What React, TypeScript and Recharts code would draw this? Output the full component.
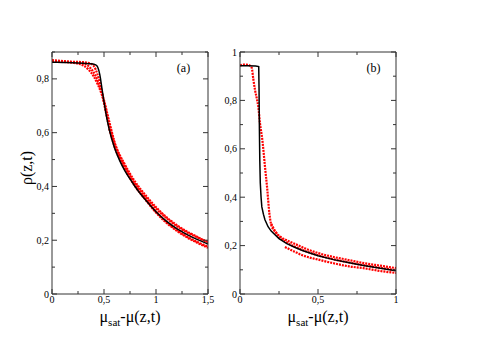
import React from 'react';
import { ComposedChart, Line, XAxis, YAxis } from 'recharts';

// ---------- Panel (a) data ----------
const aBlackX = [0, 0.1, 0.2, 0.3, 0.38, 0.42, 0.44, 0.46, 0.48, 0.5, 0.52, 0.55, 0.6, 0.65, 0.7, 0.75, 0.8, 0.85, 0.9, 1.0, 1.1, 1.2, 1.3, 1.4, 1.5];
const aBlackY = [0.862, 0.861, 0.86, 0.858, 0.856, 0.852, 0.843, 0.815, 0.765, 0.715, 0.668, 0.612, 0.545, 0.497, 0.459, 0.428, 0.399, 0.373, 0.35, 0.306, 0.271, 0.243, 0.221, 0.202, 0.186];

const aRed1X = [0, 0.1, 0.3, 0.38, 0.42, 0.45, 0.48, 0.5, 0.55, 0.6, 0.7, 0.8, 0.9, 1.0, 1.1, 1.2, 1.3, 1.4, 1.5];
const aRed1Y = [0.868, 0.865, 0.862, 0.855, 0.835, 0.8, 0.75, 0.71, 0.622, 0.557, 0.472, 0.41, 0.361, 0.318, 0.282, 0.252, 0.229, 0.21, 0.195];
const aRed2X = [0, 0.2, 0.3, 0.35, 0.4, 0.44, 0.48, 0.51, 0.55, 0.6, 0.7, 0.8, 0.9, 1.0, 1.1, 1.2, 1.3, 1.4, 1.5];
const aRed2Y = [0.865, 0.86, 0.85, 0.835, 0.81, 0.78, 0.74, 0.7, 0.632, 0.562, 0.476, 0.406, 0.353, 0.306, 0.268, 0.238, 0.213, 0.193, 0.176];
const aRed3X = [0, 0.2, 0.32, 0.37, 0.42, 0.46, 0.5, 0.55, 0.6, 0.7, 0.8, 0.9, 1.0, 1.1, 1.2, 1.3, 1.4, 1.5];
const aRed3Y = [0.87, 0.862, 0.855, 0.84, 0.81, 0.77, 0.72, 0.642, 0.567, 0.482, 0.417, 0.367, 0.323, 0.286, 0.256, 0.232, 0.212, 0.19];
const aRed4X = [0.55, 0.6, 0.7, 0.8, 0.9, 1.0, 1.1, 1.2, 1.3, 1.4, 1.5];
const aRed4Y = [0.615, 0.55, 0.465, 0.4, 0.35, 0.303, 0.265, 0.235, 0.21, 0.19, 0.172];

// ---------- Panel (b) data ----------
const bBlackX = [0, 0.05, 0.1, 0.12, 0.122, 0.124, 0.127, 0.13, 0.135, 0.14, 0.15, 0.16, 0.18, 0.2, 0.25, 0.3, 0.35, 0.4, 0.5, 0.6, 0.7, 0.8, 0.9, 1.0];
const bBlackY = [0.943, 0.943, 0.942, 0.94, 0.85, 0.7, 0.55, 0.46, 0.4, 0.36, 0.33, 0.307, 0.278, 0.26, 0.229, 0.208, 0.193, 0.18, 0.158, 0.142, 0.129, 0.117, 0.106, 0.096];

const bRedUpX = [0, 0.03, 0.06, 0.075, 0.085, 0.096, 0.107, 0.117, 0.128, 0.143, 0.16, 0.175, 0.188, 0.203, 0.23, 0.256, 0.3, 0.363, 0.43, 0.502, 0.6, 0.684, 0.8, 0.9, 1.0];
const bRedUpY = [0.945, 0.948, 0.945, 0.935, 0.89, 0.844, 0.81, 0.775, 0.706, 0.638, 0.527, 0.431, 0.335, 0.28, 0.255, 0.238, 0.222, 0.204, 0.185, 0.169, 0.153, 0.142, 0.127, 0.117, 0.107];
const bRedMidX = [0.2, 0.25, 0.3, 0.4, 0.5, 0.6, 0.7, 0.8, 0.9, 1.0];
const bRedMidY = [0.29, 0.236, 0.213, 0.182, 0.16, 0.143, 0.13, 0.118, 0.108, 0.098];
const bRedLowX = [0.288, 0.35, 0.4, 0.502, 0.6, 0.7, 0.79, 0.9, 1.0];
const bRedLowY = [0.194, 0.175, 0.16, 0.142, 0.127, 0.114, 0.107, 0.095, 0.087];

// ---------- ticks ----------
const aXTicks = [0, 0.25, 0.5, 0.75, 1, 1.25, 1.5];
const aXMajor = [0, 0.5, 1, 1.5];
const aYTicks = [0, 0.1, 0.2, 0.3, 0.4, 0.5, 0.6, 0.7, 0.8, 0.9];
const aYMajor = [0, 0.2, 0.4, 0.6, 0.8];
const bXTicks = [0, 0.25, 0.5, 0.75, 1];
const bXMajor = [0, 0.5, 1];
const bYTicks = [0, 0.1, 0.2, 0.3, 0.4, 0.5, 0.6, 0.7, 0.8, 0.9, 1];
const bYMajor = [0, 0.2, 0.4, 0.6, 0.8, 1];

const zip = (xs: number[], ys: number[]) => xs.map((x, i) => ({ x, y: ys[i] }));

const fmt = (v: number) => String(Math.round(v * 100) / 100).replace('.', ',');
const FONT = "'Liberation Serif', 'Times New Roman', serif";
const fontStyle = { fontFamily: FONT };
const AXIS = '#333';

const makeTick = (side: 'bottom' | 'top' | 'left' | 'right', majors: number[], showLabel: boolean) => (props: any) => {
  const { x, y, payload } = props;
  const v = payload.value as number;
  const major = majors.some((m) => Math.abs(m - v) < 1e-9);
  const len = major ? 5 : 3;
  let line: any;
  let label: any = null;
  if (side === 'bottom') {
    line = <line x1={x} y1={y} x2={x} y2={y - len} stroke={AXIS} strokeWidth={1} />;
    if (showLabel && major)
      label = <text x={x} y={y + 9} textAnchor="middle" fontSize={10} style={fontStyle} fill="#000">{fmt(v)}</text>;
  } else if (side === 'top') {
    line = <line x1={x} y1={y} x2={x} y2={y + len} stroke={AXIS} strokeWidth={1} />;
  } else if (side === 'left') {
    line = <line x1={x} y1={y} x2={x + len} y2={y} stroke={AXIS} strokeWidth={1} />;
    if (showLabel && major)
      label = <text x={x - 3} y={y + 3.5} textAnchor="end" fontSize={10} style={fontStyle} fill="#000">{fmt(v)}</text>;
  } else {
    line = <line x1={x} y1={y} x2={x - len} y2={y} stroke={AXIS} strokeWidth={1} />;
  }
  return (
    <g>
      {line}
      {label}
    </g>
  );
};

type Series = { data: { x: number; y: number }[]; color: string; width: number; dash?: string; curve: 'monotone' | 'linear' };

const Panel = (p: {
  width: number;
  margin: { top: number; right: number; bottom: number; left: number };
  xDomain: [number, number];
  yDomain: [number, number];
  xTicks: number[];
  xMajor: number[];
  yTicks: number[];
  yMajor: number[];
  series: Series[];
}) => (
  <ComposedChart width={p.width} height={347} margin={p.margin}>
    <XAxis xAxisId="b" orientation="bottom" type="number" dataKey="x" domain={p.xDomain} ticks={p.xTicks} height={1}
      tickSize={0} tickMargin={0} tickLine={false} axisLine={{ stroke: AXIS }} interval={0} allowDataOverflow
      tick={makeTick('bottom', p.xMajor, true)} />
    <XAxis xAxisId="t" orientation="top" type="number" dataKey="x" domain={p.xDomain} ticks={p.xTicks} height={1}
      tickSize={0} tickMargin={0} tickLine={false} axisLine={{ stroke: AXIS }} interval={0} allowDataOverflow
      tick={makeTick('top', p.xMajor, false)} />
    <YAxis yAxisId="l" orientation="left" type="number" domain={p.yDomain} ticks={p.yTicks} width={1}
      tickSize={0} tickMargin={0} tickLine={false} axisLine={{ stroke: AXIS }} interval={0} allowDataOverflow
      tick={makeTick('left', p.yMajor, true)} />
    <YAxis yAxisId="r" orientation="right" type="number" domain={p.yDomain} ticks={p.yTicks} width={1}
      tickSize={0} tickMargin={0} tickLine={false} axisLine={{ stroke: AXIS }} interval={0} allowDataOverflow
      tick={makeTick('right', p.yMajor, false)} />
    {p.series.map((s, i) => (
      <Line key={i} xAxisId="b" yAxisId="l" data={s.data} dataKey="y" type={s.curve} stroke={s.color}
        strokeWidth={s.width} strokeDasharray={s.dash} dot={false} activeDot={false} isAnimationActive={false} />
    ))}
  </ComposedChart>
);

const redA: Series[] = [
  { data: zip(aRed1X, aRed1Y), color: '#ff0000', width: 2.2, dash: '2 1', curve: 'monotone' },
  { data: zip(aRed2X, aRed2Y), color: '#ff0000', width: 2.2, dash: '2 1', curve: 'monotone' },
  { data: zip(aRed3X, aRed3Y), color: '#ff0000', width: 2.2, dash: '2 1', curve: 'monotone' },
  { data: zip(aRed4X, aRed4Y), color: '#ff0000', width: 2.2, dash: '2 1', curve: 'monotone' },
];
const seriesA: Series[] = [...redA, { data: zip(aBlackX, aBlackY), color: '#000', width: 1.5, curve: 'monotone' }];

const seriesB: Series[] = [
  { data: zip(bRedUpX, bRedUpY), color: '#ff0000', width: 2.2, dash: '2 1', curve: 'monotone' },
  { data: zip(bRedMidX, bRedMidY), color: '#ff0000', width: 2.2, dash: '2 1', curve: 'monotone' },
  { data: zip(bRedLowX, bRedLowY), color: '#ff0000', width: 2.2, dash: '2 1', curve: 'monotone' },
  { data: zip(bBlackX, bBlackY), color: '#000', width: 1.5, curve: 'linear' },
];

const XLabel = ({ cx }: { cx: number }) => (
  <text x={cx} y={322} textAnchor="middle" fontSize={16} style={fontStyle} fill="#000">
    μ<tspan fontSize={11} dy={4}>sat</tspan>
    <tspan dy={-4}>-μ(z,t)</tspan>
  </text>
);

export default function App() {
  return (
    <div style={{ position: 'absolute', left: 0, top: 0, width: 490, height: 347, background: '#fff', fontFamily: FONT }}>
      <div style={{ position: 'absolute', left: 0, top: 0 }}>
        <Panel width={230} margin={{ top: 51, right: 21, bottom: 52, left: 51 }} xDomain={[0, 1.5]} yDomain={[0, 0.9]}
          xTicks={aXTicks} xMajor={aXMajor} yTicks={aYTicks} yMajor={aYMajor} series={seriesA} />
      </div>
      <div style={{ position: 'absolute', left: 215, top: 0 }}>
        <Panel width={215} margin={{ top: 51, right: 33, bottom: 52, left: 24 }} xDomain={[0, 1]} yDomain={[0, 1]}
          xTicks={bXTicks} xMajor={bXMajor} yTicks={bYTicks} yMajor={bYMajor} series={seriesB} />
      </div>
      <svg width={490} height={347} style={{ position: 'absolute', left: 0, top: 0, pointerEvents: 'none' }}>
        <text x={32} y={168} transform="rotate(-90 32 168)" textAnchor="middle" fontSize={16} style={fontStyle} fill="#000">ρ(z,t)</text>
        <XLabel cx={130} />
        <XLabel cx={318} />
        <text x={183.5} y={72} textAnchor="middle" fontSize={12} style={fontStyle} fill="#000">(a)</text>
        <text x={373.5} y={72} textAnchor="middle" fontSize={12} style={fontStyle} fill="#000">(b)</text>
      </svg>
    </div>
  );
}
